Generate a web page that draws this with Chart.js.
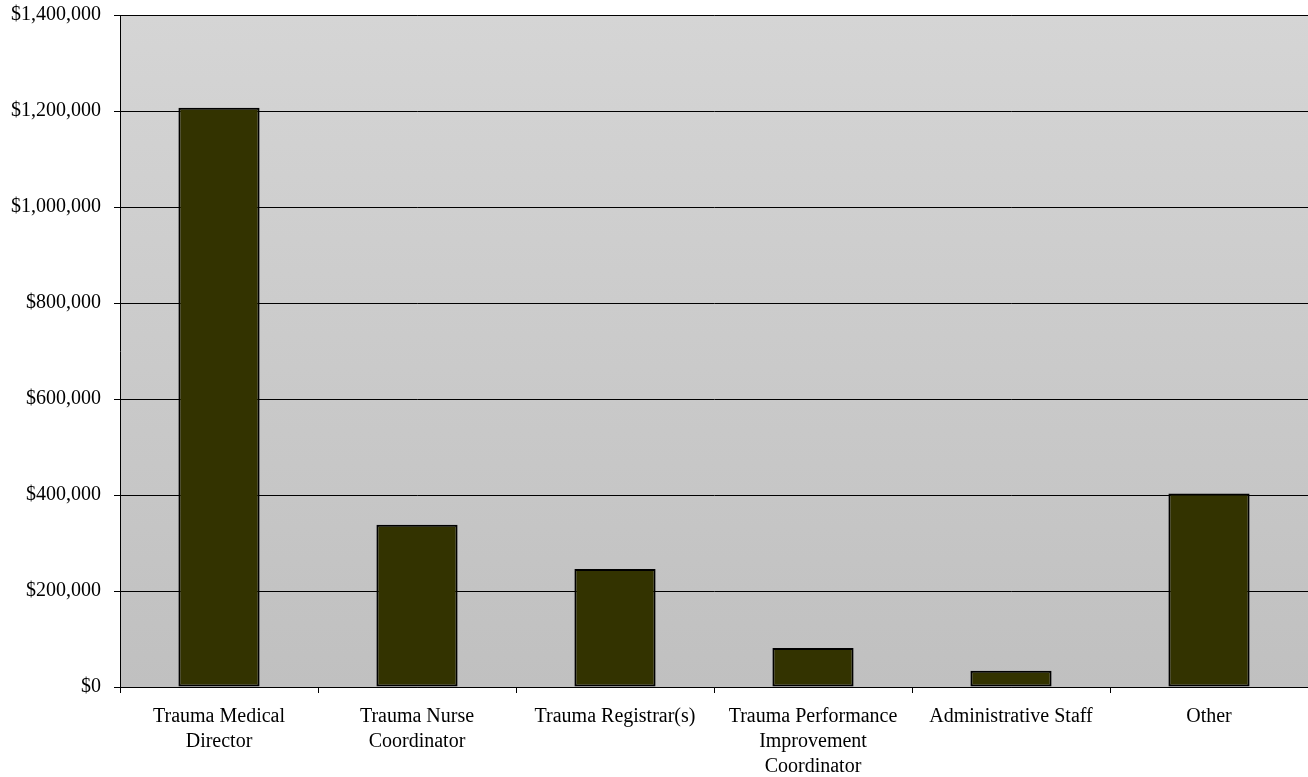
<!DOCTYPE html>
<html>
<head>
<meta charset="utf-8">
<script src="https://cdn.jsdelivr.net/npm/chart.js@4/dist/chart.umd.min.js"></script>
<style>
  html, body { margin: 0; padding: 0; background: #ffffff; }
  #wrap { width: 1308px; height: 777px; position: relative; }
</style>
</head>
<body>
<div id="wrap"><canvas id="chart" width="1308" height="777"></canvas></div>
<script>
// Staffing cost by trauma program role
const categories = [
  ["Trauma Medical", "Director"],
  ["Trauma Nurse", "Coordinator"],
  "Trauma Registrar(s)",
  ["Trauma Performance", "Improvement", "Coordinator"],
  "Administrative Staff",
  "Other"
];
const costs = [1207000, 338000, 246000, 81000, 34000, 403000];
const yTicks = [0, 200000, 400000, 600000, 800000, 1000000, 1200000, 1400000];

const FONT = "'Liberation Serif', 'Times New Roman', serif";

// Gray gradient panel behind the bars, with a soft top edge
const plotBackground = {
  id: 'plotBackground',
  beforeDraw(chart) {
    const { ctx, chartArea: a } = chart;
    ctx.save();
    const g = ctx.createLinearGradient(0, a.top, 0, a.bottom);
    g.addColorStop(0, '#d5d5d5');
    g.addColorStop(1, '#c0c0c0');
    ctx.fillStyle = g;
    ctx.fillRect(a.left, a.top, a.right - a.left, a.bottom - a.top);
    ctx.strokeStyle = '#8c8c8c';
    ctx.lineWidth = 1;
    ctx.beginPath();
    ctx.moveTo(a.left, a.top + 0.5);
    ctx.lineTo(a.right, a.top + 0.5);
    ctx.stroke();
    ctx.restore();
  }
};

new Chart(document.getElementById('chart'), {
  type: 'bar',
  data: {
    labels: categories,
    datasets: [{
      data: costs,
      backgroundColor: '#333300',
      borderColor: '#000000',
      borderWidth: 2,
      borderSkipped: false,
      categoryPercentage: 1.0,
      barPercentage: 0.41
    }]
  },
  options: {
    responsive: false,
    animation: false,
    devicePixelRatio: 1,
    layout: { padding: { top: 15, right: 0, bottom: 0, left: 0 } },
    plugins: {
      legend: { display: false },
      tooltip: { enabled: false }
    },
    scales: {
      x: {
        offset: true,
        afterFit(scale) {
          scale.height = 90;
          scale.paddingLeft = 0;
          scale.paddingRight = 0;
        },
        grid: {
          offset: true,
          drawOnChartArea: false,
          drawTicks: true,
          tickLength: 6,
          color: '#000000',
          lineWidth: 1
        },
        border: { display: true, color: '#000000', width: 1 },
        ticks: {
          autoSkip: false,
          maxRotation: 0,
          minRotation: 0,
          padding: 11,
          color: '#000000',
          font: { family: FONT, size: 20, lineHeight: 1.25 }
        }
      },
      y: {
        min: 0,
        max: 1400000,
        afterFit(scale) {
          scale.width = 120;
          scale.paddingTop = 0;
          scale.paddingBottom = 0;
        },
        afterBuildTicks(scale) { scale.ticks = yTicks.map(v => ({ value: v })); },
        grid: {
          drawTicks: true,
          tickLength: 6,
          color: '#000000',
          lineWidth: 1
        },
        border: { display: true, color: '#000000', width: 1 },
        ticks: {
          padding: 13,
          color: '#000000',
          font: { family: FONT, size: 20 },
          callback: v => '$' + Number(v).toLocaleString('en-US')
        }
      }
    }
  },
  plugins: [plotBackground]
});
</script>
</body>
</html>
